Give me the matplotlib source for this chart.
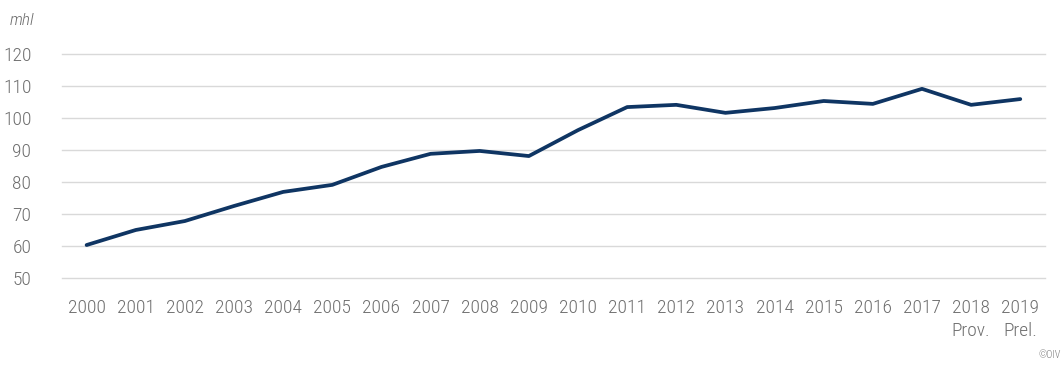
"""Évolution de la consommation - graphique linéaire"""
import matplotlib
matplotlib.use('Agg')
import matplotlib.pyplot as plt
from matplotlib import font_manager

# police étroite si disponible
names = {f.name for f in font_manager.fontManager.ttflist}
if 'Roboto Condensed' in names:
    family = 'Roboto Condensed'
elif 'Liberation Sans Narrow' in names:
    family = 'Liberation Sans Narrow'
else:
    family = 'DejaVu Sans'
plt.rcParams['font.family'] = [family, 'DejaVu Sans']
plt.rcParams['font.stretch'] = 'condensed'
plt.rcParams['font.weight'] = 'light'

years = ['2000', '2001', '2002', '2003', '2004', '2005', '2006', '2007', '2008', '2009',
         '2010', '2011', '2012', '2013', '2014', '2015', '2016', '2017', '2018\nProv.', '2019\nPrel.']
values = [60.3, 65.0, 67.8, 72.5, 76.9, 79.1, 84.7, 88.8, 89.7, 88.1,
          96.2, 103.4, 104.1, 101.6, 103.1, 105.3, 104.4, 109.1, 104.1, 105.9]
y_ticks = [50, 60, 70, 80, 90, 100, 110, 120]

fig = plt.figure(figsize=(10.64, 3.67), dpi=100)
ax = fig.add_axes([0.0583, 0.2425, 0.9237, 0.6105])

x = list(range(len(years)))
ax.plot(x, values, color='#0f3563', linewidth=2.7, solid_capstyle='round', clip_on=False, zorder=3)

ax.set_xlim(-0.5, len(years) - 0.5)
ax.set_ylim(50, 120)
ax.set_yticks(y_ticks)
ax.set_xticks(x)
ax.set_xticklabels(years, linespacing=1.35, va='top', multialignment='center')
ax.grid(True, axis='y', color='#d9d9d9', linewidth=1.0)
for gl in ax.get_ygridlines():
    gl.set_clip_on(False)
ax.set_axisbelow(True)
for s in ax.spines.values():
    s.set_visible(False)
ax.tick_params(axis='both', length=0, labelsize=14, labelcolor='#6e6e6e')
ax.tick_params(axis='x', pad=15)
ax.tick_params(axis='y', pad=22)

fig.text(0.009, 0.945, 'mhl', style='italic', fontsize=12.5, color='#6e6e6e', va='center')
fig.text(0.997, 0.02, '©OIV', fontsize=7.5, color='#808080', ha='right', va='bottom')

fig.savefig('out.png', dpi=100)
